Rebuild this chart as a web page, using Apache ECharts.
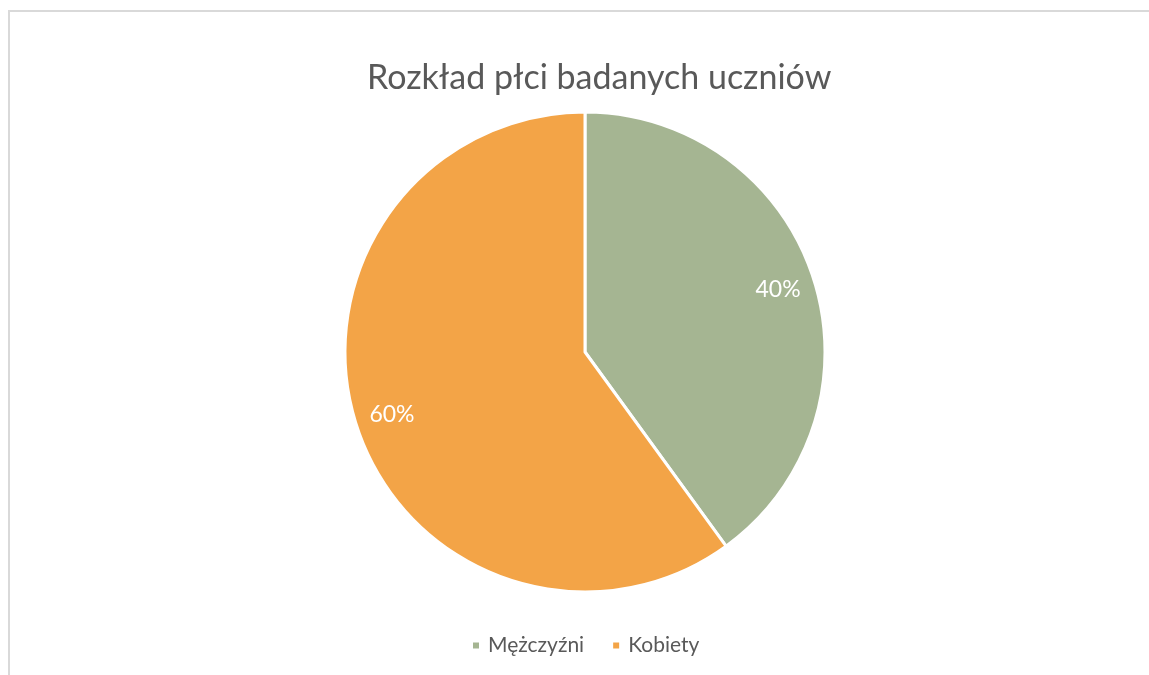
<!DOCTYPE html>
<html>
<head>
<meta charset="utf-8">
<script src="https://cdn.jsdelivr.net/npm/echarts@6/dist/echarts.min.js"></script>
<style>
html, body { margin: 0; padding: 0; background: #fff; }
#main { width: 1149px; height: 675px; }
</style>
</head>
<body>
<div id="main"></div>
<script>
// dane wykresu
var kategorie = ['Mężczyźni', 'Kobiety'];
var wartosci = [40, 60];
var kolory = ['#A5B592', '#F3A447'];

var dane = kategorie.map(function (k, i) {
    return { name: k, value: wartosci[i] };
});

var myChart = echarts.init(document.getElementById('main'));
myChart.setOption({
    backgroundColor: '#fff',
    color: kolory,
    textStyle: { fontFamily: 'Lato, "Open Sans", sans-serif' },
    graphic: [{
        // ramka obszaru wykresu (tylko lewa i górna krawędź widoczna)
        type: 'polyline',
        shape: { points: [[9, 700], [9, 11], [1200, 11]] },
        style: { fill: 'none', stroke: '#D9D9D9', lineWidth: 2 },
        silent: true
    }],
    title: {
        text: 'Rozkład płci badanych uczniów',
        left: 362,
        top: 56,
        textStyle: { color: '#595959', fontSize: 34, fontWeight: 'normal' }
    },
    legend: {
        bottom: 14,
        left: 466,
        icon: 'rect',
        itemWidth: 8,
        itemHeight: 8,
        itemGap: 27,
        data: kategorie,
        textStyle: { color: '#595959', fontSize: 21, padding: [0, 0, 0, 3] }
    },
    series: [{
        name: 'Płeć',
        type: 'pie',
        center: [585, 352],
        radius: 240,
        startAngle: 90,
        clockwise: true,
        data: dane,
        label: { show: false },
        labelLine: { show: false },
        itemStyle: { borderColor: '#fff', borderWidth: 3 },
        emphasis: { disabled: true }
    }, {
        // warstwa z etykietami procentowymi
        name: 'Etykiety',
        type: 'pie',
        center: [585, 352],
        radius: [160, 240],
        startAngle: 90,
        clockwise: true,
        silent: true,
        data: dane,
        itemStyle: { color: 'transparent' },
        label: {
            show: true,
            position: 'inside',
            formatter: '{d}%',
            color: '#fff',
            fontSize: 23
        },
        labelLine: { show: false },
        emphasis: { disabled: true }
    }]
});
</script>
</body>
</html>
